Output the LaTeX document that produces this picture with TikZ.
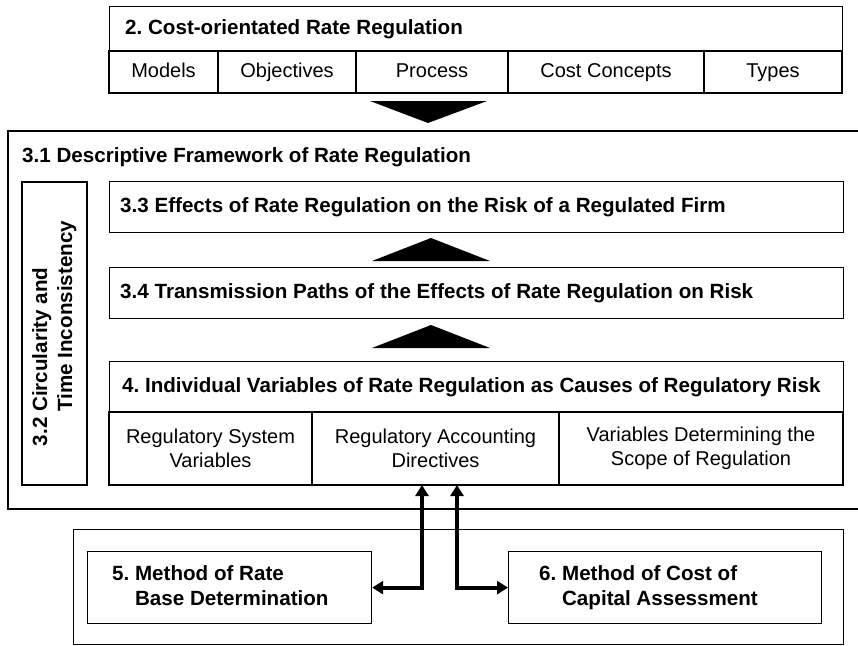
\documentclass[tikz,border=0pt]{standalone}
\usepackage{fontspec}
\setmainfont{Liberation Sans}
\usetikzlibrary{arrows.meta,positioning}
\frenchspacing

\tikzset{
  frame/.style={draw, line width=1.2pt, inner sep=0pt, anchor=north west},
  cell/.style={draw, line width=1.2pt, inner sep=0pt, outer sep=0pt, align=center,
    font=\fontsize{20}{24}\selectfont},
  onerow/.style={text height=14.5pt, text depth=4.5pt},
  heading/.style={inner sep=0pt, anchor=west, align=left,
    font=\fontsize{20.6}{25}\selectfont\bfseries},
  link/.style={line width=3.8pt,
    {Triangle[length=11pt,width=13pt]}-{Triangle[length=11pt,width=13pt]}}
}

\begin{document}
\begin{tikzpicture}[x=1pt,y=-1pt]
            \useasboundingbox (0,0) rectangle (858,645);
            % chapter 2 with its five parts
            \node[frame, minimum width=733pt, minimum height=87pt] (cost) at (109,6) {};
            \node[heading, right=16pt of cost.west, yshift=21pt] (costtitle) {2. Cost-orientated Rate Regulation};
            \node[cell, onerow, anchor=north west, minimum width=109pt, minimum height=42pt] (models) at (109,51) {Models};
            \node[cell, onerow, right=0pt of models, minimum width=138pt, minimum height=42pt] (objectives) {Objectives};
            \node[cell, onerow, right=0pt of objectives, minimum width=152pt, minimum height=42pt] (process) {Process};
            \node[cell, onerow, right=0pt of process, minimum width=196pt, minimum height=42pt] (concepts) {Cost Concepts};
            \node[cell, onerow, right=0pt of concepts, minimum width=138pt, minimum height=42pt] (types) {Types};
            \fill (370,101) -- (487,101) -- (428,123) -- cycle;
            % chapter 3 frame
            \node[frame, line width=2.2pt, minimum width=860pt, minimum height=378pt] (framework) at (7,130) {};
            \node[heading] (frametitle) at (22,157) {3.1 Descriptive Framework of Rate Regulation};
            \node[frame, minimum width=303pt, minimum height=65pt, rotate=90, anchor=center] (circ) at (54.5,333.5) {};
            \node[heading, rotate=90, anchor=center] (circtitle) at (circ.center) {\begin{tabular}{@{}l@{\ }l@{}}3.2&Circularity and\\&Time Inconsistency\end{tabular}};
            \node[frame, minimum width=734pt, minimum height=51pt] (effects) at (109,181) {};
            \node[heading, right=11pt of effects.west] (effectstitle) {3.3 Effects of Rate Regulation on the Risk of a Regulated Firm};
            \fill (372,261) -- (490,261) -- (431,238) -- cycle;
            \node[frame, minimum width=734pt, minimum height=51pt] (paths) at (109,267) {};
            \node[heading, right=11pt of paths.west] (pathstitle) {3.4 Transmission Paths of the Effects of Rate Regulation on Risk};
            \fill (372,348) -- (490,348) -- (431,325) -- cycle;
            % chapter 4 with its three groups of variables
            \node[frame, minimum width=734pt, minimum height=51pt] (variables) at (109,361) {};
            \node[heading, right=13pt of variables.west] (variablestitle) {4. Individual Variables of Rate Regulation as Causes of Regulatory Risk};
            \node[cell, anchor=north west, minimum width=203pt, minimum height=73pt] (system) at (109,412) {Regulatory System\\Variables};
            \node[cell, right=0pt of system, minimum width=247pt, minimum height=73pt] (directives) {Regulatory Accounting\\Directives};
            \node[cell, right=0pt of directives, minimum width=284pt, minimum height=73pt] (scope) {Variables Determining the\\Scope of Regulation};
            % chapters 5 and 6
            \node[frame, minimum width=770pt, minimum height=115pt] (methods) at (73,529) {};
            \node[frame, minimum width=284pt, minimum height=72pt] (ratebase) at (87,551) {};
            \node[heading, right=25pt of ratebase.west] (ratebasetitle) {\begin{tabular}{@{}l@{\ }l@{}}5.&Method of Rate\\&Base Determination\end{tabular}};
            \node[frame, minimum width=313pt, minimum height=72pt] (capital) at (508,551) {};
            \node[heading, right=31pt of capital.west] (capitaltitle) {\begin{tabular}{@{}l@{\ }l@{}}6.&Method of Cost of\\&Capital Assessment\end{tabular}};
            \draw[link] ([xshift=-13.5pt]directives.south) |- (ratebase.east);
            \draw[link] ([xshift=21.5pt]directives.south) |- (capital.west);
        \end{tikzpicture}
\end{document}
